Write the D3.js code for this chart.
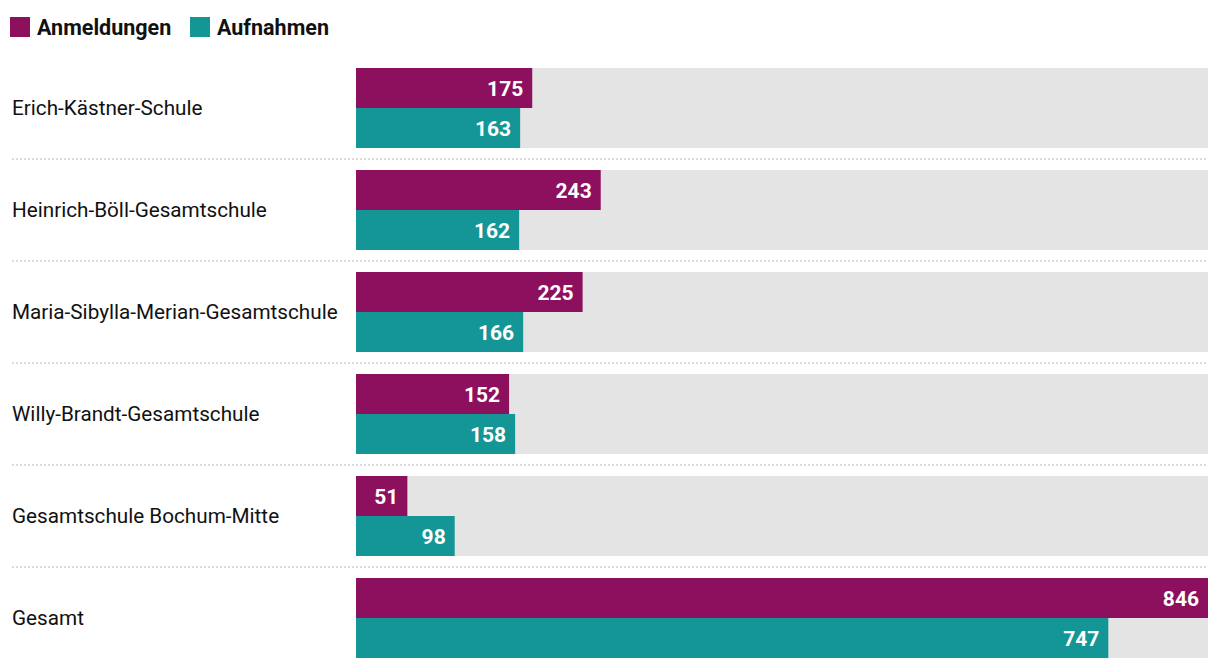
<!DOCTYPE html>
<html><head><meta charset="utf-8">
<script src="https://cdn.jsdelivr.net/npm/d3@7"></script>
<style>
body{margin:0;background:#fff;}
text{font-family:Roboto,"Noto Sans",sans-serif;}
</style></head>
<body><svg id="c" width="1220" height="670"></svg>
<script>
const schools = ["Erich-Kästner-Schule","Heinrich-Böll-Gesamtschule","Maria-Sibylla-Merian-Gesamtschule","Willy-Brandt-Gesamtschule","Gesamtschule Bochum-Mitte","Gesamt"];
const anmeldungen = [175,243,225,152,51,846];
const aufnahmen = [163,162,166,158,98,747];
const seriesNames = ["Anmeldungen","Aufnahmen"];
const colors = ["#8d105e","#159696"];

const svg = d3.select("#c");
const x = d3.scaleLinear().domain([0,846]).range([356,1208]);
const y = d3.scaleBand().domain(schools).range([68,658]).paddingInner(22/102).paddingOuter(0);
const yb = d3.scaleBand().domain(seriesNames).range([0,y.bandwidth()]);

// legend
const lg = svg.append("g");
const legendX = [10,190];
seriesNames.forEach((s,i)=>{
  lg.append("rect").attr("x",legendX[i]).attr("y",17).attr("width",20).attr("height",20).attr("fill",colors[i]);
  lg.append("text").attr("x",legendX[i]+27).attr("y",35).attr("font-size",21.5).attr("font-weight",700).attr("fill","#111").text(s);
});

// separators
schools.slice(0,-1).forEach(s=>{
  const yy = y(s)+y.bandwidth()+11;
  svg.append("line").attr("x1",12).attr("x2",1208).attr("y1",yy).attr("y2",yy)
    .attr("stroke","#cfcfcf").attr("stroke-width",1.5).attr("stroke-dasharray","2,2");
});

const rows = svg.selectAll("g.row").data(schools).join("g").attr("class","row")
  .attr("transform",d=>`translate(0,${y(d)})`);
rows.append("rect").attr("x",x(0)).attr("width",x(846)-x(0)).attr("height",y.bandwidth()).attr("fill","#e4e4e4");
rows.append("text").attr("x",12).attr("y",y.bandwidth()/2).attr("dy","0.35em").attr("font-size",20.7).attr("fill","#111").text(d=>d);

[anmeldungen,aufnahmen].forEach((vals,si)=>{
  rows.append("rect").attr("x",x(0)).attr("y",yb(seriesNames[si])).attr("height",yb.bandwidth())
    .attr("width",(d,i)=>x(vals[i])-x(0)).attr("fill",colors[si]);
  rows.append("text").attr("x",(d,i)=>x(vals[i])-9).attr("y",yb(seriesNames[si])+yb.bandwidth()/2)
    .attr("dy","0.36em").attr("text-anchor","end").attr("font-size",21).attr("font-weight",700).attr("fill","#fff")
    .text((d,i)=>vals[i]);
});
</script></body></html>
